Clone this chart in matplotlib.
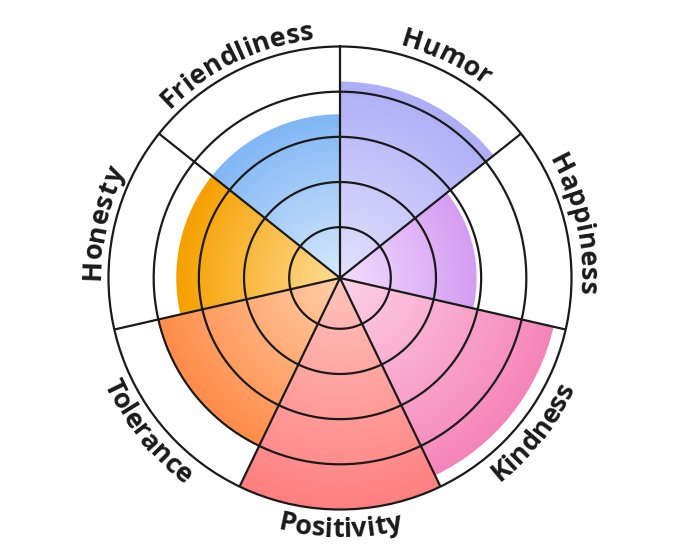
import numpy as np
import matplotlib
matplotlib.use('Agg')
from matplotlib import pyplot as plt
from matplotlib.colors import to_rgb
from matplotlib.font_manager import FontProperties
from matplotlib.textpath import TextToPath

labels = ['Humor', 'Happiness', 'Kindness', 'Positivity', 'Tolerance', 'Honesty', 'Friendliness']
values = [84.5, 58, 94.5, 100, 80, 70, 70]
rings = [20, 40, 60, 80, 100]
# light (centre) -> dark (edge) for each sector
light = ['#e4e2fd', '#f3defd', '#fcd3e6', '#ffc4bc', '#ffcfa8', '#ffdc96', '#d8eafc']
dark = ['#aeaef7', '#d49cf2', '#f584b8', '#ff7f80', '#ff8c4a', '#f5a000', '#80b6f5']

r0 = -2.5
n = len(labels)
w = 2*np.pi/n
lc = '#1a1a1a'
lw = 1.6

fig = plt.figure(figsize=(6.8, 5.57), dpi=100)
R = 231.5
ax = fig.add_axes([(340-R)/680, (279-R)/557, 2*R/680, 2*R/557], projection='polar')
ax.set_theta_zero_location('N')
ax.set_theta_direction(-1)
ax.set_ylim(r0, 100)
ax.grid(False)
ax.set_xticks([])
ax.set_yticks([])
ax.spines['polar'].set_linewidth(lw)
ax.spines['polar'].set_color(lc)

# bars with a radial gradient: stack shrinking bars from outside in
steps = 90
for i in range(n):
    th = (i + 0.5)*w
    c0 = np.array(to_rgb(light[i]))
    c1 = np.array(to_rgb(dark[i]))
    for j in range(steps, 0, -1):
        top = r0 + (values[i] - r0)*j/steps
        t = j/steps
        col = c0 + (c1 - c0)*t
        ax.bar(th, top - r0, width=w, bottom=r0, color=col, linewidth=0, zorder=1)

# grid on top
tt = np.linspace(0, 2*np.pi, 500)
for rv in rings[:-1]:
    ax.plot(tt, np.full_like(tt, rv), color=lc, lw=lw, zorder=3)
for i in range(n):
    ax.plot([i*w, i*w], [r0, 100], color=lc, lw=lw, zorder=3)

# curved labels
fp = FontProperties(family='Open Sans', weight='bold', size=19.5)
ttp = TextToPath()
k = R/(100 - r0)  # px per data unit


def txt_w(s):
    if not s:
        return 0.0
    wd, h, d = ttp.get_text_width_height_descent(s, fp, ismath=False)
    return wd*100/72


for i, lab in enumerate(labels):
    th = (i + 0.5)*w
    total = txt_w(lab)
    lower = np.pi/2 < th < 3*np.pi/2
    rb = 259 if lower else 240
    for c in range(len(lab)):
        s = (txt_w(lab[:c]) + txt_w(lab[:c+1]))/2 - total/2
        if lower:
            a = th - s/rb
            rot = 180 - np.degrees(a)
        else:
            a = th + s/rb
            rot = -np.degrees(a)
        ax.text(a, rb/k + r0, lab[c], fontproperties=fp, color=lc,
                ha='center', va='baseline', rotation=rot, rotation_mode='anchor',
                zorder=4)

fig.savefig('out.png', dpi=100)
